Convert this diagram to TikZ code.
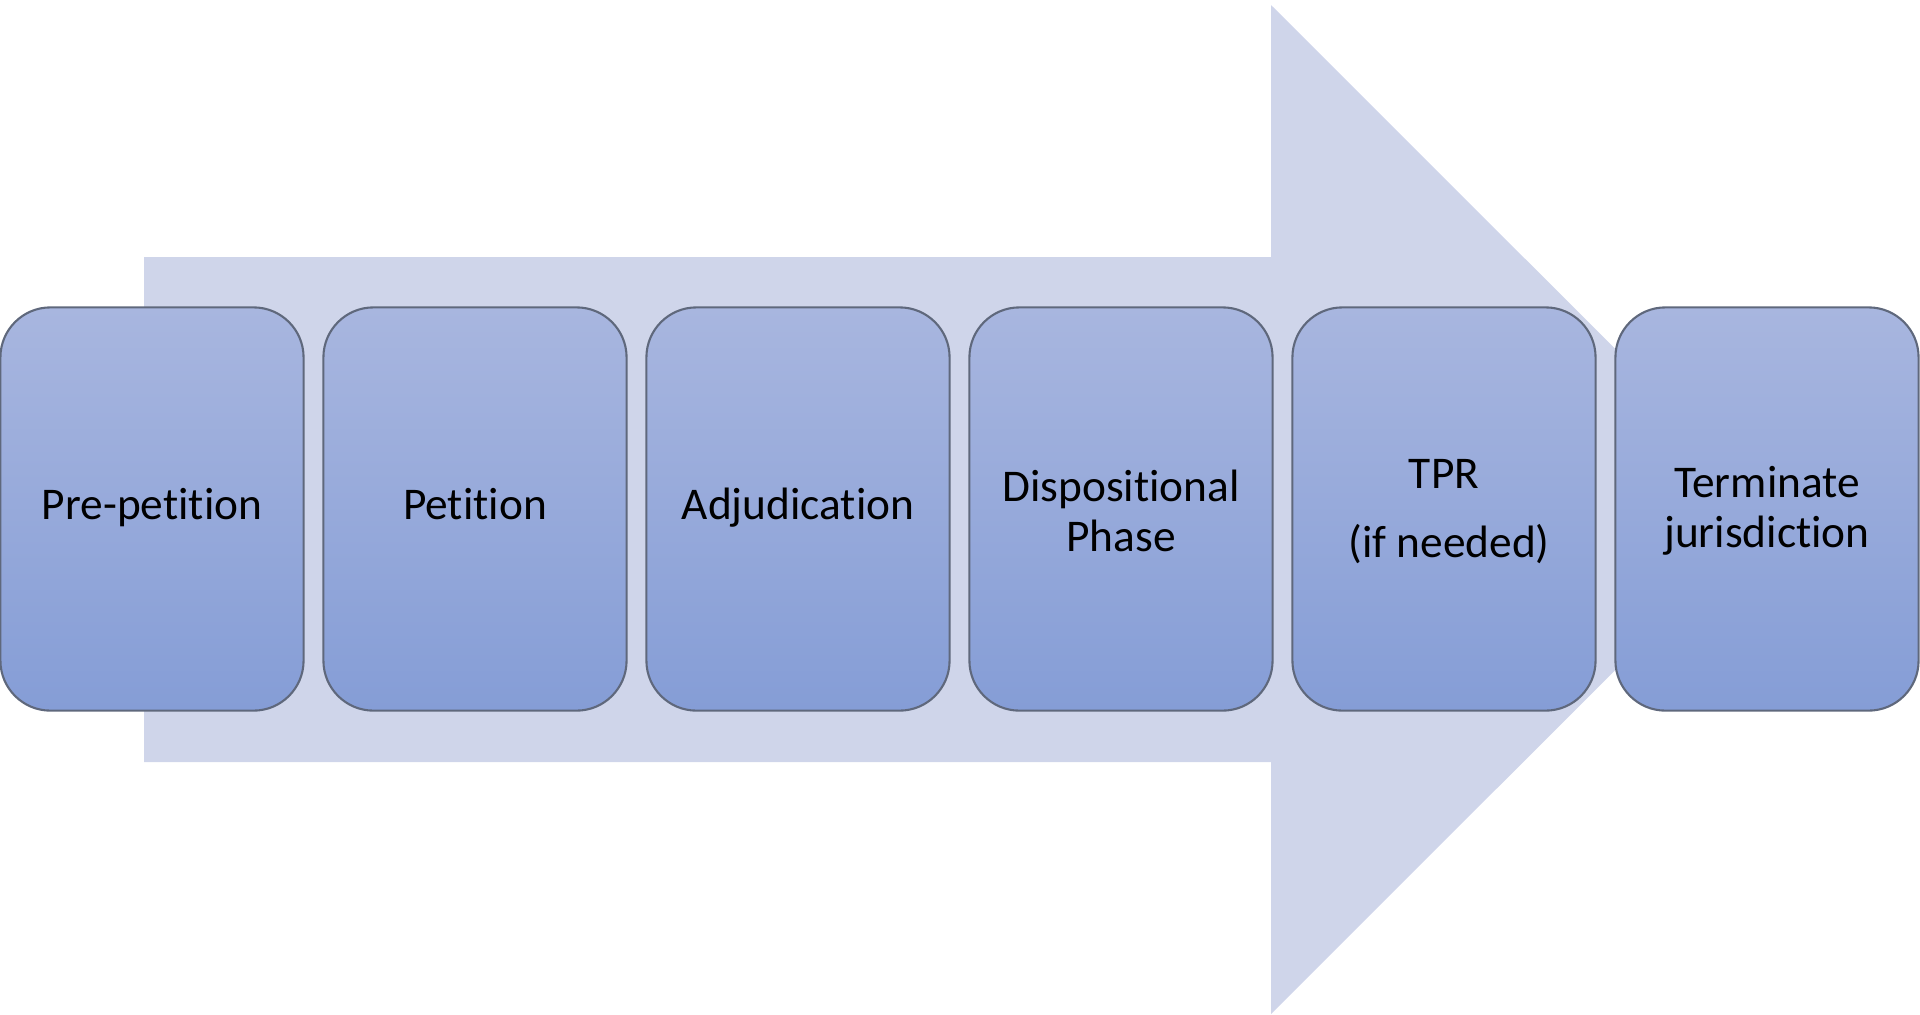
\documentclass[tikz,border=0pt]{standalone}
\usepackage{fontspec}
\setmainfont[Ligatures=NoCommon]{Carlito}
\usepackage{tikz}

\begin{document}
\begin{tikzpicture}[x=0.01cm,y=-0.01cm]
		\definecolor{arrowfill}{RGB}{207,213,234}
		\definecolor{boxtop}{RGB}{168,182,223}
		\definecolor{boxbottom}{RGB}{133,157,214}
		\definecolor{boxline}{RGB}{95,104,124}
		\tikzset{
			stagebox/.style={
				draw=boxline, line width=0.6pt, rounded corners=0.5cm,
				top color=boxtop, bottom color=boxbottom,
				minimum width=3.03cm, minimum height=4.03cm,
				align=center, inner sep=0pt,
				font=\fontsize{12.9}{14.2}\selectfont
			}
		}
		
		\useasboundingbox (0,0) rectangle (1920,1014);
		
		% big arrow behind the stages
		\fill [arrowfill] (144,257) -- (1271,257) -- (1271,5) -- (1776,509.5)
			-- (1271,1014) -- (1271,762) -- (144,762) -- cycle;
		
		\foreach \i/\t in {1/Pre-petition, 2/Petition, 3/Adjudication,
			4/{Dispositional\\Phase}, 5/{TPR\\[5.5pt]\hspace*{0.22em}(if needed)},
			6/{Terminate\\jurisdiction}}{
			\node [stagebox] (s\i) at ({152+(\i-1)*323},509) {\strut\t};
		}
		\end{tikzpicture}
\end{document}
